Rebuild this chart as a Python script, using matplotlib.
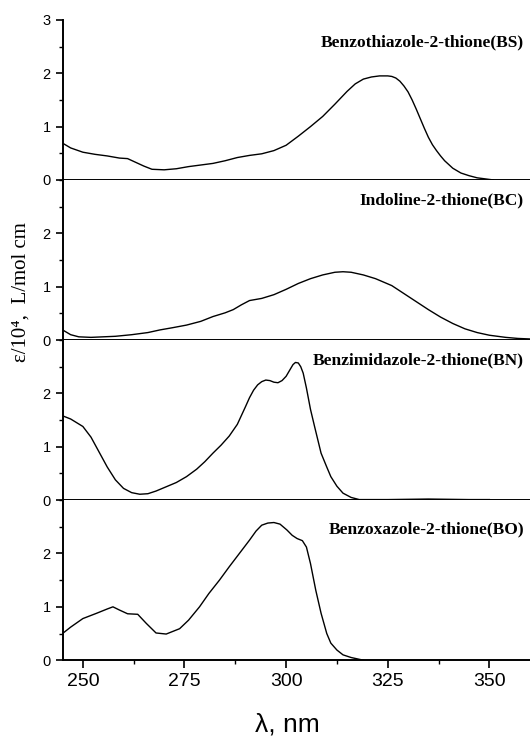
import numpy as np
import matplotlib
matplotlib.use("Agg")
import matplotlib.pyplot as plt
from matplotlib.ticker import MultipleLocator

plt.rcParams["font.family"] = "Liberation Sans"

# spectra (wavelength nm, eps/1e4)
bs_wl = [245, 247, 250, 253, 256, 259, 261, 263, 265, 267, 270, 273, 276, 279, 282, 285,
         288, 291, 294, 297, 300, 303, 306, 309, 312, 315, 317, 319, 321, 322, 323, 324,
         325, 326, 327, 328, 329, 330, 331, 332, 333, 334, 335, 336, 337, 338, 339, 341,
         343, 345, 347, 349, 351]
bs_eps = [0.69, 0.60, 0.52, 0.48, 0.45, 0.41, 0.40, 0.33, 0.26, 0.20, 0.19, 0.21, 0.25, 0.28,
          0.31, 0.36, 0.42, 0.46, 0.49, 0.55, 0.65, 0.82, 1.00, 1.19, 1.42, 1.66, 1.80, 1.89,
          1.93, 1.94, 1.95, 1.95, 1.95, 1.94, 1.91, 1.85, 1.76, 1.65, 1.50, 1.33, 1.15, 0.97,
          0.80, 0.66, 0.55, 0.45, 0.36, 0.22, 0.13, 0.08, 0.04, 0.02, 0.00]

bc_wl = [245, 247, 249, 252, 255, 258, 262, 266, 269, 272, 275.5, 279, 282, 285, 287, 289,
         291, 294, 297, 300, 303, 306, 309, 312, 314, 316, 319, 322, 326, 329, 332, 335, 338,
         341, 344, 347, 350, 354, 357, 360]
bc_eps = [0.19, 0.10, 0.06, 0.05, 0.06, 0.07, 0.10, 0.14, 0.19, 0.23, 0.28, 0.35, 0.44, 0.51,
          0.57, 0.66, 0.74, 0.78, 0.85, 0.95, 1.06, 1.15, 1.22, 1.27, 1.28, 1.27, 1.22, 1.15,
          1.02, 0.87, 0.72, 0.57, 0.43, 0.31, 0.21, 0.14, 0.09, 0.05, 0.03, 0.02]

bn_wl = [245, 247, 250, 252, 254, 256, 258, 260, 262, 264, 266, 268, 270.5, 273, 275.5, 278,
         280, 282, 284, 286, 288, 290, 291, 292, 293, 294, 295, 296, 297, 298, 299, 300,
         301, 301.7, 302.3, 303, 303.6, 304.2, 305, 306, 307, 308.6, 310, 311, 312.5, 314,
         316, 318, 325, 335, 345, 350]
bn_eps = [1.58, 1.52, 1.38, 1.18, 0.90, 0.62, 0.38, 0.22, 0.14, 0.11, 0.12, 0.17, 0.25, 0.33,
          0.44, 0.58, 0.72, 0.88, 1.03, 1.20, 1.42, 1.75, 1.92, 2.06, 2.16, 2.22, 2.25, 2.24,
          2.21, 2.20, 2.24, 2.32, 2.45, 2.54, 2.58, 2.57, 2.50, 2.38, 2.10, 1.70, 1.38, 0.88,
          0.62, 0.44, 0.26, 0.13, 0.05, 0.01, 0.01, 0.02, 0.01, 0.01]

bo_wl = [245, 247, 250, 253.4, 256, 257.4, 259, 261, 263.5, 265.6, 268, 270.5, 273.8, 276,
         278.7, 281, 283.6, 286, 288.5, 291, 292.6, 294, 295.5, 297, 298.5, 300.2, 301.5,
         302.7, 304, 305, 306, 307.3, 308.6, 310, 311, 312.5, 314, 316, 319]
bo_eps = [0.50, 0.62, 0.78, 0.88, 0.96, 1.00, 0.94, 0.87, 0.86, 0.69, 0.51, 0.49, 0.59, 0.75,
          1.00, 1.25, 1.50, 1.75, 2.00, 2.25, 2.42, 2.53, 2.57, 2.58, 2.55, 2.44, 2.34,
          2.28, 2.24, 2.12, 1.81, 1.31, 0.88, 0.50, 0.32, 0.19, 0.10, 0.05, 0.00]

names = ["Benzothiazole-2-thione(BS)", "Indoline-2-thione(BC)",
         "Benzimidazole-2-thione(BN)", "Benzoxazole-2-thione(BO)"]
series = [(bs_wl, bs_eps), (bc_wl, bc_eps), (bn_wl, bn_eps), (bo_wl, bo_eps)]
label_y = [0.86, 0.87, 0.87, 0.82]

fig = plt.figure(figsize=(5.3, 7.36), dpi=100)

left, right = 0.118, 1.0
top, bottom = 0.973, 0.103
h = (top - bottom) / 4

for i, (wl, eps) in enumerate(series):
    ax = fig.add_axes([left, top - (i + 1) * h, right - left, h])
    ax.plot(wl, eps, color="black", lw=1.0)
    ax.set_xlim(245, 360)
    ax.set_ylim(0, 3)
    for s in ("top", "right"):
        ax.spines[s].set_visible(False)
    for s in ("left", "bottom"):
        ax.spines[s].set_linewidth(1.4)
    ax.xaxis.set_major_locator(MultipleLocator(25))
    ax.xaxis.set_minor_locator(MultipleLocator(12.5))
    if i == 0:
        ax.set_yticks([0, 1, 2, 3])
    else:
        ax.set_yticks([0, 1, 2])
    ax.yaxis.set_minor_locator(MultipleLocator(0.5))
    ax.tick_params(which="major", direction="out", length=5, width=1.2, labelsize=10.5)
    ax.tick_params(which="minor", direction="out", length=3, width=1.0)
    ax.tick_params(axis="x", which="major", length=6, labelsize=14, pad=3)
    if i < 3:
        ax.tick_params(axis="x", labelbottom=False)
    ax.text(0.987, label_y[i], names[i], transform=ax.transAxes, ha="right", va="center",
            fontsize=12.5, fontweight="bold", family="Liberation Serif")

fig.text(0.04, 0.603, "ε/10⁴,  L/mol cm", rotation=90, ha="center", va="center",
         fontsize=15, family="Liberation Serif")
fig.text(0.543, 0.006, "λ, nm", ha="center", va="baseline", fontsize=19)

fig.savefig("out.png", dpi=100)
